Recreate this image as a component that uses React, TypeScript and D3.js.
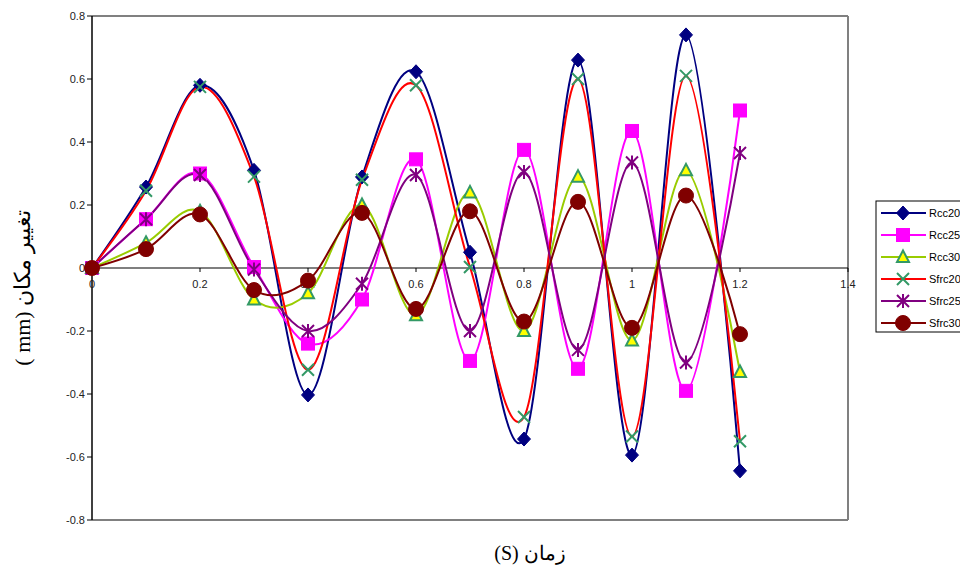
import React from "react";
import * as d3 from "d3";

const xValues = [0, 0.1, 0.2, 0.3, 0.4, 0.5, 0.6, 0.7, 0.8, 0.9, 1.0, 1.1, 1.2];
const rcc20 = [0, 0.257, 0.58, 0.31, -0.403, 0.289, 0.623, 0.05, -0.543, 0.66, -0.594, 0.74, -0.644];
const rcc25 = [0, 0.155, 0.3, 0.003, -0.24, -0.1, 0.345, -0.295, 0.375, -0.32, 0.435, -0.39, 0.5];
const rcc30 = [0, 0.08, 0.18, -0.1, -0.08, 0.2, -0.15, 0.24, -0.2, 0.29, -0.23, 0.31, -0.33];
const sfrc20 = [0, 0.245, 0.575, 0.29, -0.323, 0.28, 0.58, 0.003, -0.473, 0.6, -0.535, 0.61, -0.55];
const sfrc25 = [0, 0.155, 0.295, -0.005, -0.2, -0.05, 0.295, -0.2, 0.305, -0.26, 0.335, -0.3, 0.365];
const sfrc30 = [0, 0.06, 0.17, -0.07, -0.04, 0.175, -0.13, 0.18, -0.17, 0.21, -0.19, 0.23, -0.21];

const seriesNames = ["Rcc20", "Rcc25", "Rcc30", "Sfrc20", "Sfrc25", "Sfrc30"];
const xTicks = [0, 0.2, 0.4, 0.6, 0.8, 1, 1.2, 1.4];
const yTicks = [-0.8, -0.6, -0.4, -0.2, 0, 0.2, 0.4, 0.6, 0.8];
const xTitle = "(S) زمان";
const yTitleLatin = "( mm)";
const yTitleArabic = "تغيير مكان";

type MarkerKind = "diamond" | "square" | "triangle" | "x" | "star" | "circle";
const styles: { color: string; marker: MarkerKind; fill: string; stroke: string }[] = [
  { color: "#000080", marker: "diamond", fill: "#000080", stroke: "#000080" },
  { color: "#FF00FF", marker: "square", fill: "#FF00FF", stroke: "#FF00FF" },
  { color: "#99CC00", marker: "triangle", fill: "#FFFF00", stroke: "#339966" },
  { color: "#FF0000", marker: "x", fill: "none", stroke: "#339966" },
  { color: "#800080", marker: "star", fill: "none", stroke: "#800080" },
  { color: "#800000", marker: "circle", fill: "#800000", stroke: "#800000" },
];

function Marker({ kind, x, y, fill, stroke }: { kind: MarkerKind; x: number; y: number; fill: string; stroke: string }) {
  switch (kind) {
    case "diamond":
      return <path d={`M${x},${y - 7}L${x + 6.5},${y}L${x},${y + 7}L${x - 6.5},${y}Z`} fill={fill} stroke={stroke} strokeWidth={1} />;
    case "square":
      return <rect x={x - 6.5} y={y - 6.5} width={13} height={13} fill={fill} stroke={stroke} strokeWidth={1} />;
    case "triangle":
      return <path d={`M${x},${y - 6.5}L${x + 6},${y + 5}L${x - 6},${y + 5}Z`} fill={fill} stroke={stroke} strokeWidth={2} />;
    case "x":
      return <path d={`M${x - 6},${y - 6}L${x + 6},${y + 6}M${x - 6},${y + 6}L${x + 6},${y - 6}`} fill="none" stroke={stroke} strokeWidth={2} />;
    case "star":
      return <path d={`M${x - 6},${y - 6}L${x + 6},${y + 6}M${x - 6},${y + 6}L${x + 6},${y - 6}M${x},${y - 7}L${x},${y + 7}`} fill="none" stroke={stroke} strokeWidth={2} />;
    case "circle":
      return <circle cx={x} cy={y} r={7.5} fill={fill} stroke={stroke} />;
  }
}

export default function App() {
  const width = 960;
  const height = 570;
  const left = 92, right = 848, top = 16, bottom = 520;
  const xScale = d3.scaleLinear().domain([0, 1.4]).range([left, right]);
  const yScale = d3.scaleLinear().domain([-0.8, 0.8]).range([bottom, top]);
  const allSeries = [rcc20, rcc25, rcc30, sfrc20, sfrc25, sfrc30];
  const line = d3
    .line<number>()
    .x((_, i) => xScale(xValues[i]))
    .y((d) => yScale(d))
    .curve(d3.curveCardinal.tension(0));
  const fmt = (v: number) => (v === 0 ? "0" : String(Math.round(v * 10) / 10));
  const legendX = 876, legendY = 201, rowH = 22;

  return (
    <svg width={width} height={height} style={{ position: "absolute", left: 0, top: 0, background: "#fff" }}>
      <rect x={0} y={0} width={width} height={height} fill="#fff" />
      {/* plot border */}
      <line x1={left} y1={top} x2={right} y2={top} stroke="#808080" strokeWidth={2} />
      <line x1={right} y1={top} x2={right} y2={bottom} stroke="#808080" strokeWidth={2} />
      <line x1={left} y1={bottom} x2={right} y2={bottom} stroke="#808080" strokeWidth={2} />
      {/* y axis */}
      <line x1={left} y1={top} x2={left} y2={bottom} stroke="#000" strokeWidth={1.5} />
      {yTicks.map((t) => (
        <g key={"y" + t}>
          <line x1={left - 5} x2={left} y1={yScale(t)} y2={yScale(t)} stroke="#000" />
          <text x={left - 7} y={yScale(t) + 4} textAnchor="end" fontFamily="Liberation Sans, Arial, sans-serif" fontSize={11} fill="#222">
            {fmt(t)}
          </text>
        </g>
      ))}
      {/* x axis at zero */}
      <line x1={left} y1={yScale(0)} x2={right} y2={yScale(0)} stroke="#000" strokeWidth={1.2} />
      {xTicks.map((t) => (
        <g key={"x" + t}>
          <line x1={xScale(t)} x2={xScale(t)} y1={yScale(0)} y2={yScale(0) + 4} stroke="#000" />
          <text x={xScale(t)} y={yScale(0) + 20} textAnchor="middle" fontFamily="Liberation Sans, Arial, sans-serif" fontSize={11} fill="#222">
            {fmt(t)}
          </text>
        </g>
      ))}
      {/* series */}
      {allSeries.map((s, si) => (
        <path key={"l" + si} d={line(s) || ""} fill="none" stroke={styles[si].color} strokeWidth={2} />
      ))}
      {allSeries.map((s, si) => (
        <g key={"m" + si}>
          {s.map((v, i) => (
            <Marker key={i} kind={styles[si].marker} x={xScale(xValues[i])} y={yScale(v)} fill={styles[si].fill} stroke={styles[si].stroke} />
          ))}
        </g>
      ))}
      {/* legend */}
      <rect x={legendX} y={legendY} width={100} height={131} fill="#fff" stroke="#000" strokeWidth={1} />
      {seriesNames.map((n, i) => {
        const cy = legendY + 12 + i * rowH;
        return (
          <g key={n}>
            <line x1={legendX + 5} x2={legendX + 50} y1={cy} y2={cy} stroke={styles[i].color} strokeWidth={2} />
            <Marker kind={styles[i].marker} x={legendX + 27} y={cy} fill={styles[i].fill} stroke={styles[i].stroke} />
            <text x={legendX + 53} y={cy + 4} fontFamily="Liberation Sans, Arial, sans-serif" fontSize={11} fill="#000">
              {n}
            </text>
          </g>
        );
      })}
      {/* titles */}
      <text x={(left + right) / 2 + 60} y={560} textAnchor="middle" fontFamily="Liberation Serif, Times New Roman, serif" fontSize={20} fill="#000">
        {xTitle}
      </text>
      <g transform="translate(30,288) rotate(-90)">
        <text x={0} y={0} textAnchor="middle" fontFamily="Liberation Serif, Times New Roman, serif" fontSize={22} fill="#000">
          <tspan>{yTitleLatin}</tspan>
          <tspan> {yTitleArabic}</tspan>
        </text>
      </g>
    </svg>
  );
}
